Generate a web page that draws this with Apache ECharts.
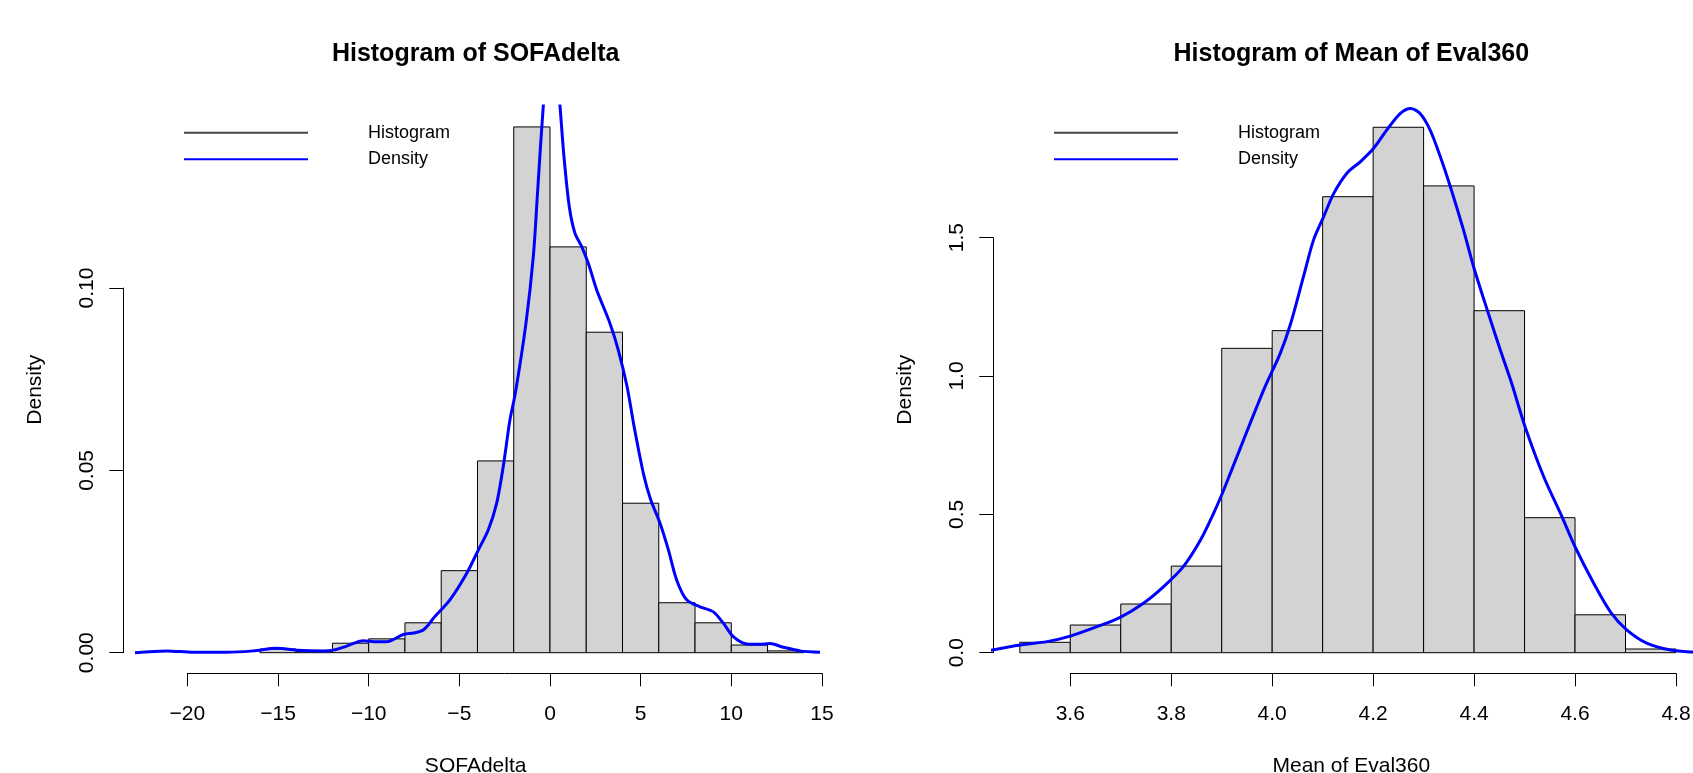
<!DOCTYPE html>
<html>
<head>
<meta charset="utf-8">
<script src="https://cdn.jsdelivr.net/npm/echarts@6/dist/echarts.min.js"></script>
<style>
  html, body { margin: 0; padding: 0; background: #fff; }
  #chart { width: 1693px; height: 773px; }
</style>
</head>
<body>
<div id="chart"></div>
<script>
// histogram of SOFAdelta (bins of width 2)
var sofaBinStarts = [-16, -14, -12, -10, -8, -6, -4, -2, 0, 2, 4, 6, 8, 10, 12];
var sofaHist = [0.0010, 0.0003, 0.0026, 0.0038, 0.0082, 0.0225, 0.0526, 0.1442, 0.1113, 0.0879, 0.0410, 0.0137, 0.0082, 0.0021, 0.0005];
var sofaDensX = [-22.89, -21.14, -19.67, -17.83, -16.36, -15.07, -13.97, -12.50, -11.95, -11.21, -10.30, -9.56, -9.01, -8.09, -7.5, -7.0, -6.71, -6.44, -5.52, -4.59, -3.95, -3.40, -2.94, -2.58, -2.21, -1.90, -1.324, -0.921, -0.678, -0.37, 0.10, 0.552, 0.772, 1.065, 1.379, 1.748, 2.113, 2.576, 3.309, 3.767, 4.25, 4.64, 5.15, 5.55, 6.07, 6.53, 6.99, 7.54, 8.27, 9.01, 9.56, 10.11, 10.85, 11.58, 12.13, 12.87, 13.79, 14.89];
var sofaDensY = [0.0000, 0.0005, 0.0001, 0.0001, 0.0005, 0.0012, 0.0007, 0.0005, 0.0007, 0.0018, 0.0033, 0.0030, 0.0030, 0.0050, 0.0054, 0.0062, 0.0076, 0.0094, 0.0145, 0.0218, 0.0282, 0.0337, 0.0410, 0.0510, 0.0638, 0.0715, 0.0904, 0.1086, 0.1269, 0.1500, 0.1780, 0.1500, 0.1360, 0.1223, 0.1150, 0.1114, 0.1068, 0.0995, 0.0903, 0.0830, 0.0730, 0.0620, 0.0492, 0.0420, 0.0355, 0.0282, 0.0199, 0.0145, 0.0126, 0.0112, 0.0081, 0.0044, 0.0024, 0.0023, 0.0025, 0.0015, 0.0005, 0.0001];
var sofaXTicks = [-20, -15, -10, -5, 0, 5, 10, 15];
var sofaYTicks = [0, 0.05, 0.10];

// histogram of Mean of Eval360 (bins of width 0.1)
var evalBinStarts = [3.5, 3.6, 3.7, 3.8, 3.9, 4.0, 4.1, 4.2, 4.3, 4.4, 4.5, 4.6, 4.7];
var evalHist = [0.0376, 0.100, 0.176, 0.313, 1.100, 1.164, 1.648, 1.899, 1.687, 1.236, 0.488, 0.137, 0.0134];
var evalDensX = [3.44, 3.501, 3.554, 3.600, 3.653, 3.699, 3.745, 3.785, 3.824, 3.858, 3.884, 3.904, 3.917, 3.983, 4.016, 4.036, 4.062, 4.082, 4.102, 4.122, 4.148, 4.175, 4.201, 4.227, 4.254, 4.274, 4.293, 4.313, 4.333, 4.353, 4.379, 4.399, 4.426, 4.452, 4.475, 4.501, 4.538, 4.574, 4.600, 4.637, 4.670, 4.703, 4.743, 4.789, 4.835, 4.87];
var evalDensY = [0.008, 0.028, 0.040, 0.060, 0.094, 0.128, 0.179, 0.239, 0.311, 0.407, 0.504, 0.588, 0.648, 0.949, 1.082, 1.186, 1.359, 1.492, 1.576, 1.660, 1.733, 1.775, 1.823, 1.889, 1.949, 1.967, 1.949, 1.889, 1.793, 1.684, 1.528, 1.395, 1.239, 1.094, 0.970, 0.817, 0.636, 0.492, 0.383, 0.251, 0.148, 0.082, 0.034, 0.010, 0.002, 0.000];
var evalXTicks = [3.6, 3.8, 4.0, 4.2, 4.4, 4.6, 4.8];
var evalYTicks = [0, 0.5, 1.0, 1.5];

var FONT = 'Liberation Sans, Arial, Helvetica, sans-serif';
var chart = echarts.init(document.getElementById('chart'));

function zip(xs, ys) {
  return xs.map(function (x, i) { return [x, ys[i]]; });
}

function renderBar(params, api) {
  var p0 = api.coord([api.value(0), api.value(2)]);
  var p1 = api.coord([api.value(1), 0]);
  return {
    type: 'rect',
    shape: { x: p0[0], y: p0[1], width: p1[0] - p0[0], height: p1[1] - p0[1] },
    style: { fill: '#d3d3d3', stroke: '#000', lineWidth: 1 }
  };
}

var option = {
  animation: false,
  textStyle: { fontFamily: FONT },
  title: [], legend: [], grid: [], xAxis: [], yAxis: [], series: []
};

// each panel: a data grid (plot region) + one grid holding only the x axis + one holding only the y axis
function addPanel(p) {
  var gi = option.grid.length;
  var sx = p.width / (p.xMax - p.xMin);
  var sy = p.height / (p.yMax - p.yMin);
  var xt = p.xTicks, yt = p.yTicks;
  var bottom = p.top + p.height;

  option.grid.push({ left: p.left, top: p.top, width: p.width, height: p.height, outerBoundsMode: 'none' });
  option.grid.push({
    left: p.left + (xt[0] - p.xMin) * sx, top: bottom - 10,
    width: (xt[xt.length - 1] - xt[0]) * sx, height: 10, outerBoundsMode: 'none'
  });
  option.grid.push({
    left: p.left, top: p.top + (p.yMax - yt[yt.length - 1]) * sy,
    width: 10, height: (yt[yt.length - 1] - yt[0]) * sy, outerBoundsMode: 'none'
  });

  var lineBlack = { show: true, lineStyle: { color: '#000', width: 1 } };
  var labelStyle = { color: '#000', fontSize: 21, fontFamily: FONT };

  // data axes (hidden apart from their names)
  option.xAxis.push({
    gridIndex: gi, type: 'value', min: p.xMin, max: p.xMax,
    axisLine: { show: false }, axisTick: { show: false }, axisLabel: { show: false }, splitLine: { show: false },
    name: p.xName, nameLocation: 'middle', nameGap: 82,
    nameTextStyle: { color: '#000', fontSize: 21, fontFamily: FONT }
  });
  option.yAxis.push({
    gridIndex: gi, type: 'value', min: p.yMin, max: p.yMax,
    axisLine: { show: false }, axisTick: { show: false }, axisLabel: { show: false }, splitLine: { show: false },
    name: 'Density', nameLocation: 'middle', nameGap: 78, nameRotate: 90,
    nameTextStyle: { color: '#000', fontSize: 21, fontFamily: FONT }
  });
  // visible x axis
  option.xAxis.push({
    gridIndex: gi + 1, type: 'value', min: xt[0], max: xt[xt.length - 1], interval: xt[1] - xt[0],
    axisLine: lineBlack, axisTick: { show: true, length: 13, lineStyle: { color: '#000' } },
    axisLabel: Object.assign({ margin: 30.5, showMinLabel: true, showMaxLabel: true, formatter: p.xFmt }, labelStyle),
    splitLine: { show: false }
  });
  option.yAxis.push({ gridIndex: gi + 1, type: 'value', show: false });
  // visible y axis
  option.xAxis.push({ gridIndex: gi + 2, type: 'value', show: false });
  option.yAxis.push({
    gridIndex: gi + 2, type: 'value', min: yt[0], max: yt[yt.length - 1], interval: yt[1] - yt[0],
    axisLine: lineBlack, axisTick: { show: true, length: 14, lineStyle: { color: '#000' } },
    axisLabel: Object.assign({ margin: 26, rotate: 90, showMinLabel: true, showMaxLabel: true, formatter: p.yFmt }, labelStyle),
    splitLine: { show: false }
  });

  option.series.push({
    name: 'Histogram', type: 'custom', xAxisIndex: gi, yAxisIndex: gi,
    renderItem: renderBar, clip: true,
    itemStyle: { color: '#444' },
    encode: { x: [0, 1], y: 2 },
    data: p.bins.map(function (b, i) { return [b, b + p.binWidth, p.hist[i]]; })
  });
  option.series.push({
    name: 'Density', type: 'line', xAxisIndex: gi, yAxisIndex: gi,
    showSymbol: false, smooth: 0.3, clip: true,
    itemStyle: { color: '#0000ff' },
    lineStyle: { color: '#0000ff', width: 3 },
    data: zip(p.densX, p.densY)
  });

  option.title.push({
    text: p.title, left: p.left + p.width / 2, top: 42, textAlign: 'center', padding: 0,
    textStyle: { color: '#000', fontSize: 25, fontWeight: 'bold', fontFamily: FONT }
  });
  option.legend.push({
    orient: 'vertical', left: p.legendLeft, top: 113.7, padding: 5,
    icon: 'rect', itemWidth: 124, itemHeight: 2, itemGap: -1.4,
    textStyle: { color: '#000', fontSize: 18, fontFamily: FONT, lineHeight: 20, padding: [8, 0, 0, 55] },
    data: [
      { name: 'Histogram', itemStyle: { color: '#444' } },
      { name: 'Density', itemStyle: { color: '#0000ff' } }
    ],
    selectedMode: false
  });
}

addPanel({
  left: 123.3, top: 106, width: 704.7, height: 567.3,
  xMin: -23.535, xMax: 15.334, yMin: -0.00565, yMax: 0.14994,
  xTicks: sofaXTicks, yTicks: sofaYTicks,
  xFmt: function (v) { return String(v).replace('-', '\u2212'); },
  yFmt: function (v) { return v.toFixed(2); },
  bins: sofaBinStarts, binWidth: 2, hist: sofaHist, densX: sofaDensX, densY: sofaDensY,
  title: 'Histogram of SOFAdelta', xName: 'SOFAdelta', legendLeft: 179
});
addPanel({
  left: 993.3, top: 106, width: 716, height: 567.3,
  xMin: 3.4475, xMax: 4.8660, yMin: -0.0744, yMax: 1.9758,
  xTicks: evalXTicks, yTicks: evalYTicks,
  xFmt: function (v) { return v.toFixed(1); },
  yFmt: function (v) { return v.toFixed(1); },
  bins: evalBinStarts, binWidth: 0.1, hist: evalHist, densX: evalDensX, densY: evalDensY,
  title: 'Histogram of Mean of Eval360', xName: 'Mean of Eval360', legendLeft: 1049
});

chart.setOption(option);
</script>
</body>
</html>
